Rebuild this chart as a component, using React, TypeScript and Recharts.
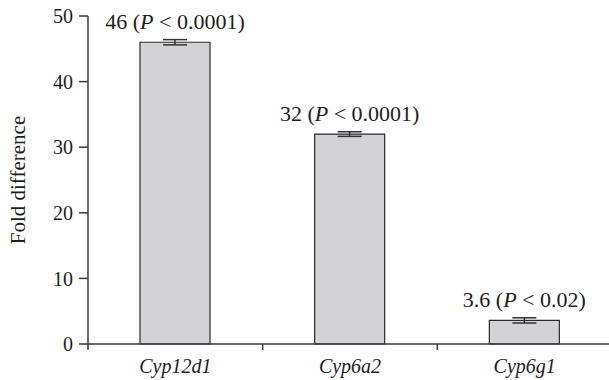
import React from 'react';
import { BarChart, Bar, XAxis, YAxis, ErrorBar, LabelList } from 'recharts';

const categories = ['Cyp12d1', 'Cyp6a2', 'Cyp6g1'];
const foldValues = [46, 32, 3.6];
const errorValues = [0.4, 0.35, 0.4];
const pThresholds = ['0.0001', '0.0001', '0.02'];
const yTicks = [0, 10, 20, 30, 40, 50];

const data = categories.map((name, i) => ({
  name,
  value: foldValues[i],
  err: errorValues[i],
  p: pThresholds[i],
}));

const FONT = '"Liberation Serif", "Times New Roman", serif';
const AXIS_COLOR = '#3a3a3a';
const TEXT_COLOR = '#1e1e1e';

const CategoryTick = (props: any) => {
  const { x, y, payload, index } = props;
  const half = payload && typeof payload.offset === 'number' && payload.offset > 0 ? payload.offset : 87.25;
  const isLast = index === categories.length - 1;
  return (
    <g>
      <line x1={x - half} x2={x - half} y1={y} y2={y + 6} stroke={AXIS_COLOR} strokeWidth={1.5} />
      {isLast && <line x1={x + half} x2={x + half} y1={y} y2={y + 6} stroke={AXIS_COLOR} strokeWidth={1.5} />}
      <text x={x} y={y + 29} textAnchor="middle" fontFamily={FONT} fontSize={20} fontStyle="italic" fill={TEXT_COLOR}>
        {payload.value}
      </text>
    </g>
  );
};

const BarTopLabel = (props: any) => {
  const { x, y, width, value, index } = props;
  const i = typeof index === 'number' ? index : foldValues.indexOf(value);
  return (
    <text x={x + width / 2} y={y - 13} textAnchor="middle" fontFamily={FONT} fontSize={22} fill={TEXT_COLOR}>
      {`${value} (`}
      <tspan fontStyle="italic">P</tspan>
      {` < ${pThresholds[i]})`}
    </text>
  );
};

export default function App() {
  return (
    <div style={{ position: 'absolute', left: 0, top: 0, width: 609, height: 380, overflow: 'hidden', background: '#fff' }}>
      <BarChart
        width={614}
        height={380}
        data={data}
        margin={{ top: 16, right: 2, bottom: 0, left: 0 }}
      >
        <XAxis
          dataKey="name"
          height={36}
          interval={0}
          tickSize={0}
          tickMargin={0}
          tickLine={false}
          axisLine={{ stroke: AXIS_COLOR, strokeWidth: 1.5 }}
          tick={<CategoryTick />}
        />
        <YAxis
          width={88}
          domain={[0, 50]}
          ticks={yTicks}
          interval={0}
          tickSize={9}
          tickMargin={6}
          axisLine={{ stroke: AXIS_COLOR, strokeWidth: 1.5 }}
          tickLine={{ stroke: AXIS_COLOR, strokeWidth: 1.5 }}
          tick={{ fontFamily: FONT, fontSize: 20, fill: TEXT_COLOR }}
          label={{
            content: () => (
              <text
                transform="translate(25,180) rotate(-90)"
                textAnchor="middle"
                fontFamily={FONT}
                fontSize={21}
                fill={TEXT_COLOR}
              >
                Fold difference
              </text>
            ),
          }}
        />
        <Bar
          dataKey="value"
          barSize={70}
          fill="#d3d3d5"
          stroke="#2a2a2a"
          strokeWidth={1.2}
          isAnimationActive={false}
        >
          <ErrorBar dataKey="err" width={12} stroke="#333" strokeWidth={1.5} />
          <LabelList dataKey="value" content={<BarTopLabel />} />
        </Bar>
      </BarChart>
    </div>
  );
}
